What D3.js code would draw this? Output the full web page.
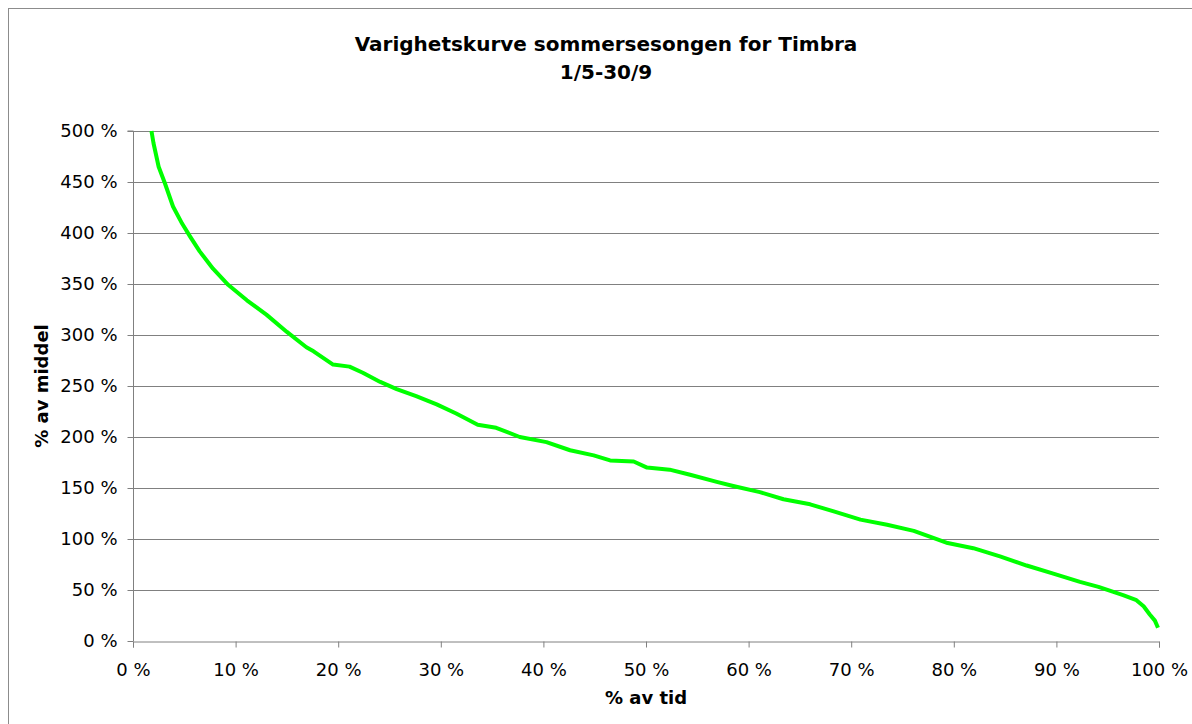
<!DOCTYPE html>
<html>
<head>
<meta charset="utf-8">
<script src="https://cdn.jsdelivr.net/npm/d3@7"></script>
<style>
  body { margin: 0; background: #fff; }
  text { font-family: "DejaVu Sans", Verdana, sans-serif; fill: #000; }
</style>
</head>
<body>
<div class="chart"></div>
<script>
const width = 1192, height = 724;

// % av tid (x) and % av middel (y)
const timePct = [1.8, 2.0, 2.5, 3.1, 3.9, 4.8, 5.6, 6.5, 7.8, 9.3, 11.1, 13.0, 15.0, 16.9, 17.6,
  19.5, 21.1, 22.4, 24.1, 25.7, 27.6, 29.6, 31.5, 33.6, 35.4, 37.7, 40.3, 42.6, 44.9, 46.5,
  48.8, 50.1, 52.3, 54.3, 56.9, 58.5, 61.1, 63.4, 66.0, 68.3, 70.9, 73.5, 76.1, 78.0, 79.4,
  81.9, 84.5, 87.1, 89.7, 92.3, 94.1, 96.5, 97.8, 98.5, 99.1, 99.6, 99.9];
const meanPct = [500, 488, 465, 449, 426, 409, 396, 382, 365, 349, 334, 320, 303, 288, 284,
  271, 269, 263, 254, 247, 240, 232, 223, 212, 209, 200, 195, 187, 182, 177,
  176, 170, 168, 163, 156, 152, 146, 139, 134, 127, 119, 114, 108, 101, 96,
  91, 83, 74, 66, 58, 53, 45, 40, 34, 26, 20, 13];

const xTicks = [0, 10, 20, 30, 40, 50, 60, 70, 80, 90, 100];
const yTicks = [0, 50, 100, 150, 200, 250, 300, 350, 400, 450, 500];
const titleLines = ["Varighetskurve sommersesongen for Timbra", "1/5-30/9"];

const margin = {left: 133, right: 33, top: 131, bottom: 83};

const svg = d3.select(".chart").append("svg")
    .attr("width", width)
    .attr("height", height);

// outer chart border (runs off the right and bottom edge)
svg.append("rect")
    .attr("x", 8.5).attr("y", 8.5)
    .attr("width", 1200).attr("height", 740)
    .attr("fill", "none")
    .attr("stroke", "#8c8c8c");

const x = d3.scaleLinear().domain([0, 100]).range([margin.left, width - margin.right]);
const y = d3.scaleLinear().domain([0, 500]).range([height - margin.bottom, margin.top]);

// gridlines
svg.append("g")
    .selectAll("line")
    .data(yTicks.filter(d => d > 0))
    .join("line")
    .attr("x1", x(0)).attr("x2", x(100))
    .attr("y1", d => Math.round(y(d)) + 0.5)
    .attr("y2", d => Math.round(y(d)) + 0.5)
    .attr("stroke", "#808080");

const xAxis = svg.append("g")
    .attr("transform", `translate(0,${Math.round(y(0)) + 0.5})`)
    .call(d3.axisBottom(x).tickValues(xTicks).tickSize(6).tickPadding(16).tickFormat(d => d + " %"));

const yAxis = svg.append("g")
    .attr("transform", `translate(${Math.round(x(0)) + 0.5},0)`)
    .call(d3.axisLeft(y).tickValues(yTicks).tickSize(6).tickPadding(10).tickFormat(d => d + " %"));

[xAxis, yAxis].forEach(g => {
  g.select(".domain").attr("stroke", "#808080");
  g.selectAll(".tick line").attr("stroke", "#808080");
  g.selectAll(".tick text")
    .attr("font-size", 18)
    .attr("font-family", "DejaVu Sans, Verdana, sans-serif")
    .attr("fill", "#000");
});
yAxis.select(".domain").attr("d", `M-6,${y(500)}H0V${y(0)}`);

// curve
const pts = timePct.map((t, i) => [t, meanPct[i]]);
svg.append("path")
    .datum(pts)
    .attr("fill", "none")
    .attr("stroke", "#00ff00")
    .attr("stroke-width", 4)
    .attr("stroke-linejoin", "round")
    .attr("d", d3.line().x(d => x(d[0])).y(d => y(d[1])));

// title (centred on the whole chart area, which runs past the window)
svg.append("g")
    .selectAll("text")
    .data(titleLines)
    .join("text")
    .attr("x", 606)
    .attr("y", (d, i) => 51 + i * 28)
    .attr("text-anchor", "middle")
    .attr("font-size", 20)
    .attr("font-weight", "bold")
    .text(d => d);

// axis titles
svg.append("text")
    .attr("x", x(50))
    .attr("y", 704)
    .attr("text-anchor", "middle")
    .attr("font-size", 18)
    .attr("font-weight", "bold")
    .text("% av tid");

svg.append("text")
    .attr("transform", `translate(48,${y(250)}) rotate(-90)`)
    .attr("text-anchor", "middle")
    .attr("font-size", 18)
    .attr("font-weight", "bold")
    .text("% av middel");
</script>
</body>
</html>
